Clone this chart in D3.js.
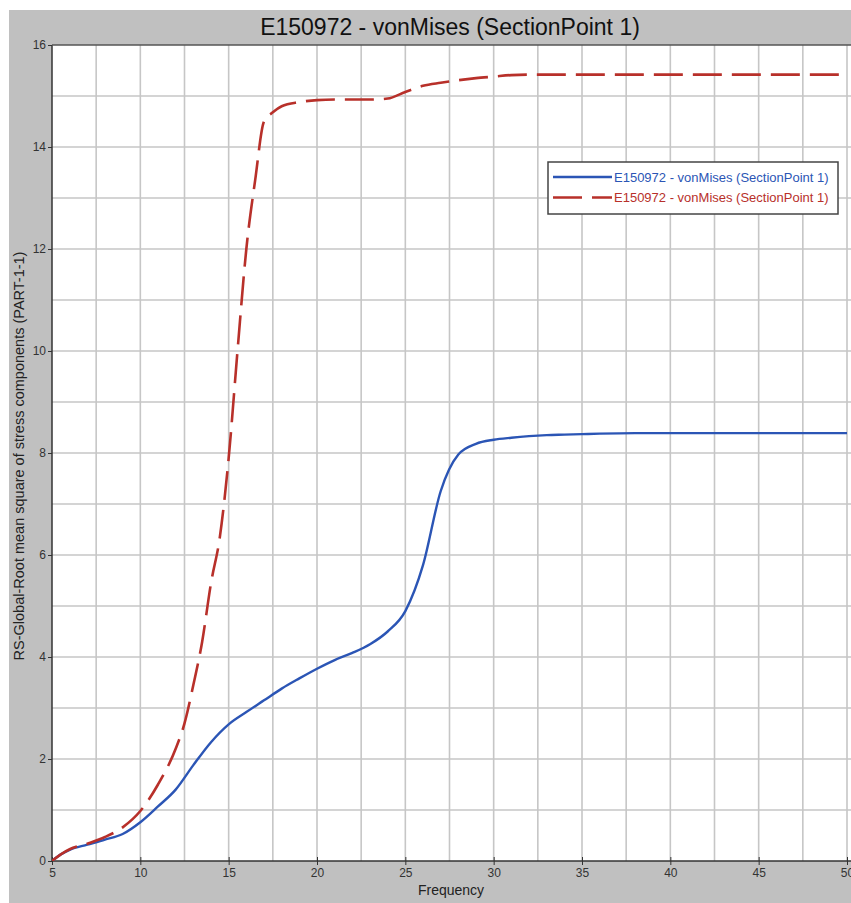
<!DOCTYPE html>
<html>
<head>
<meta charset="utf-8">
<script src="https://cdn.jsdelivr.net/npm/d3@7/dist/d3.min.js"></script>
<style>
html,body{margin:0;padding:0;background:#fff;}
svg{display:block;}
text{font-family:"Liberation Sans",Arial,sans-serif;}
</style>
</head>
<body>
<svg id="chart" width="851" height="903"></svg>
<script>
const chartTitle = "E150972 - vonMises (SectionPoint 1)";
const xTitle = "Frequency";
const yTitle = "RS-Global-Root mean square of stress components (PART-1-1)";
const seriesNames = ["E150972 - vonMises (SectionPoint 1)", "E150972 - vonMises (SectionPoint 1)"];
const xTicks = [5, 10, 15, 20, 25, 30, 35, 40, 45, 50];
const yTicks = [0, 2, 4, 6, 8, 10, 12, 14, 16];

const blueX = [5, 5.5, 6, 7, 8, 9, 10, 11, 12, 13, 14, 15, 16, 17, 18, 19, 20, 21, 22, 23, 24, 25, 26, 27, 28, 29, 30, 31, 32, 33, 34, 35, 36, 38, 50];
const blueY = [0, 0.13, 0.22, 0.32, 0.42, 0.53, 0.76, 1.07, 1.4, 1.88, 2.33, 2.68, 2.92, 3.15, 3.38, 3.58, 3.77, 3.94, 4.08, 4.25, 4.5, 4.9, 5.8, 7.25, 7.97, 8.18, 8.26, 8.3, 8.33, 8.35, 8.36, 8.37, 8.38, 8.39, 8.39];

const redX = [5, 5.5, 6, 7, 8, 9, 10, 11, 12, 12.5, 13, 13.5, 14, 14.5, 15, 15.5, 16, 16.5, 17, 17.5, 18, 19, 20, 21, 22, 23, 24, 25, 26, 27, 28, 29, 30, 31, 32, 50];
const redY = [0, 0.13, 0.23, 0.34, 0.47, 0.66, 0.98, 1.5, 2.2, 2.7, 3.45, 4.3, 5.45, 6.35, 7.9, 10.0, 12.0, 13.35, 14.5, 14.68, 14.8, 14.88, 14.92, 14.93, 14.93, 14.93, 14.95, 15.08, 15.2, 15.26, 15.31, 15.35, 15.38, 15.41, 15.42, 15.42];

const svg = d3.select("#chart");
const W = 851, H = 903;
const plot = {left: 52, top: 45, right: 870, bottom: 861};

const x = d3.scaleLinear().domain([5, 50]).range([52, 847]);
const y = d3.scaleLinear().domain([0, 16]).range([861, 45]);

// gray background
svg.append("rect").attr("x", 9).attr("y", 10).attr("width", W - 9).attr("height", H - 10).attr("fill", "#c0c0c0");

// plot area
svg.append("rect").attr("x", plot.left).attr("y", plot.top)
  .attr("width", plot.right - plot.left).attr("height", plot.bottom - plot.top).attr("fill", "#fff");

const defs = svg.append("defs");
defs.append("clipPath").attr("id", "clip").append("rect")
  .attr("x", plot.left).attr("y", plot.top).attr("width", plot.right - plot.left).attr("height", plot.bottom - plot.top);

// grid
const gridG = svg.append("g").attr("clip-path", "url(#clip)");
const vGrid = d3.range(7.5, 50.01, 2.5);
gridG.selectAll("line.v").data(vGrid).join("line")
  .attr("x1", d => x(d)).attr("x2", d => x(d))
  .attr("y1", plot.top).attr("y2", plot.bottom)
  .attr("stroke", "#c6c6c6").attr("stroke-width", 1.6);
const hGrid = d3.range(1, 16, 1);
gridG.selectAll("line.h").data(hGrid).join("line")
  .attr("x1", plot.left).attr("x2", plot.right)
  .attr("y1", d => y(d)).attr("y2", d => y(d))
  .attr("stroke", "#c6c6c6").attr("stroke-width", 1.6);

// axes
const xAxis = d3.axisBottom(x).tickValues(xTicks).tickSize(4).tickPadding(3).tickFormat(d3.format("d"));
const gx = svg.append("g").attr("transform", `translate(0,${plot.bottom})`).call(xAxis);
gx.select(".domain").remove();
gx.selectAll(".tick line").attr("stroke", "#333").attr("y1", -4);
gx.selectAll(".tick text").attr("fill", "#333").style("font-size", "12px").style("font-family", "'Liberation Sans',Arial,sans-serif");

const yAxis = d3.axisLeft(y).tickValues(yTicks).tickSize(4).tickPadding(2).tickFormat(d3.format("d"));
const gy = svg.append("g").attr("transform", `translate(${plot.left},0)`).call(yAxis);
gy.select(".domain").remove();
gy.selectAll(".tick line").attr("stroke", "#333");
gy.selectAll(".tick text").attr("fill", "#333").style("font-size", "12px").style("font-family", "'Liberation Sans',Arial,sans-serif");

// frame lines
svg.append("line").attr("x1", plot.left).attr("x2", W).attr("y1", plot.bottom).attr("y2", plot.bottom).attr("stroke", "#333").attr("stroke-width", 1.5);
svg.append("line").attr("x1", plot.left).attr("x2", plot.left).attr("y1", plot.top).attr("y2", plot.bottom).attr("stroke", "#333").attr("stroke-width", 1.5);
svg.append("line").attr("x1", plot.left).attr("x2", W).attr("y1", plot.top).attr("y2", plot.top).attr("stroke", "#555").attr("stroke-width", 1.5);

// series
const blue = blueX.map((d, i) => [d, blueY[i]]);
const red = redX.map((d, i) => [d, redY[i]]);
const line = d3.line().x(d => x(d[0])).y(d => y(d[1])).curve(d3.curveMonotoneX);
const lineG = svg.append("g").attr("clip-path", "url(#clip)");
lineG.append("path").datum(blue).attr("d", line).attr("fill", "none")
  .attr("stroke", "#2b55b5").attr("stroke-width", 2.4).attr("stroke-linejoin", "round");
lineG.append("path").datum(red).attr("d", line).attr("fill", "none")
  .attr("stroke", "#b8302a").attr("stroke-width", 2.6).attr("stroke-dasharray", "29,10");

// title
svg.append("text").attr("x", 450).attr("y", 35).attr("text-anchor", "middle")
  .attr("fill", "#111").style("font-size", "23px").text(chartTitle);

// axis titles
svg.append("text").attr("x", 451).attr("y", 895).attr("text-anchor", "middle")
  .attr("fill", "#222").style("font-size", "14px").text(xTitle);
svg.append("text").attr("transform", "translate(24,456) rotate(-90)").attr("text-anchor", "middle")
  .attr("fill", "#222").style("font-size", "14.5px").text(yTitle);

// legend
const lg = svg.append("g");
lg.append("rect").attr("x", 548).attr("y", 162).attr("width", 290).attr("height", 52)
  .attr("fill", "#fff").attr("stroke", "#444").attr("stroke-width", 1.5);
const legColors = ["#2b55b5", "#b8302a"];
const legDash = [null, "29,10"];
seriesNames.forEach((name, i) => {
  const yy = 177 + i * 20.5;
  lg.append("line").attr("x1", 553).attr("x2", 612).attr("y1", yy).attr("y2", yy)
    .attr("stroke", legColors[i]).attr("stroke-width", 2.4).attr("stroke-dasharray", legDash[i]);
  lg.append("text").attr("x", 614).attr("y", yy + 4.5).attr("fill", legColors[i])
    .style("font-size", "13px").text(name);
});
</script>
</body>
</html>
